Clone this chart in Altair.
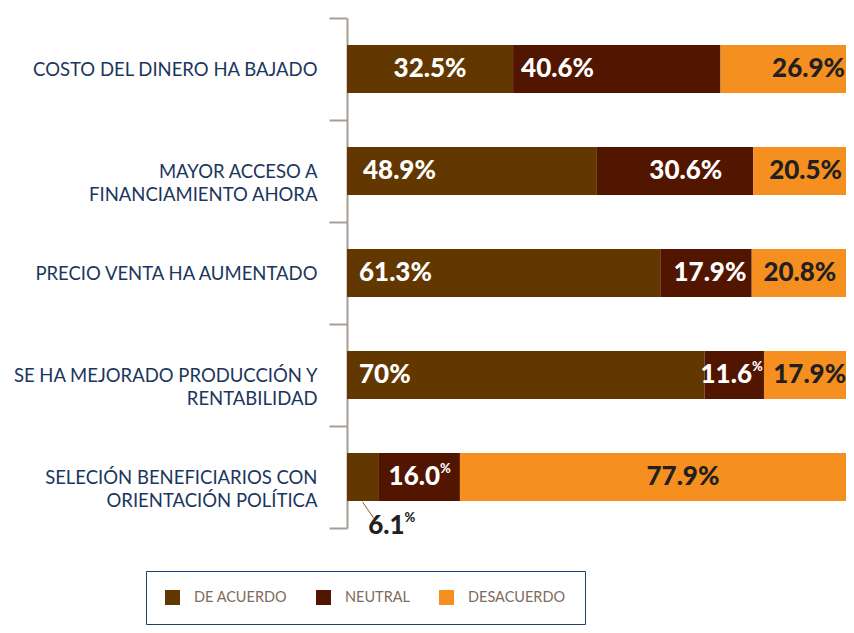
import altair as alt
import pandas as pd

# ---- data -------------------------------------------------------------
categories = [
    "COSTO DEL DINERO HA BAJADO",
    "MAYOR ACCESO A|FINANCIAMIENTO AHORA",
    "PRECIO VENTA HA AUMENTADO",
    "SE HA MEJORADO PRODUCCIÓN Y|RENTABILIDAD",
    "SELECIÓN BENEFICIARIOS CON|ORIENTACIÓN POLÍTICA",
]
series = ["DE ACUERDO", "NEUTRAL", "DESACUERDO"]
de_acuerdo = [32.5, 48.9, 61.3, 70.0, 6.1]
neutral = [40.6, 30.6, 17.9, 11.6, 16.0]
desacuerdo = [26.9, 20.5, 20.8, 17.9, 77.9]
label_de = ["32.5", "48.9", "61.3", "70", "6.1"]
label_ne = ["40.6", "30.6", "17.9", "11.6", "16.0"]
label_ds = ["26.9", "20.5", "20.8", "17.9", "77.9"]

colors = ["#623700", "#521500", "#f58f1f"]
text_colors = ["#ffffff", "#ffffff", "#231f20"]

# ---- label layout (style only): (anchor, pixel dx, kind) ----------------
# kind: "plain" -> number + "%", "sup" -> superscript %, "below" -> under bar
layout = {
    (0, 0): ("center", 0, "plain"), (0, 1): ("left", 8, "plain"), (0, 2): ("right", -13, "plain"),
    (1, 0): ("left", 16, "plain"), (1, 1): ("right", -31, "plain"), (1, 2): ("center", 0, "plain"),
    (2, 0): ("left", 12, "plain"), (2, 1): ("center", 4, "plain"), (2, 2): ("center", -5, "plain"),
    (3, 0): ("left", 12, "plain"), (3, 1): ("end", -12, "sup"), (3, 2): ("center", 0, "plain"),
    (4, 0): ("mid", 42, "below"), (4, 1): ("mid", 21, "sup"), (4, 2): ("center", 24, "plain"),
}

W, H = 499, 510          # plot area (svg must stay within the page body)
RANGE = 511              # 100 % lies past the visible edge, as in the reference
px_per_unit = RANGE / 100.0

rows = []
values = [de_acuerdo, neutral, desacuerdo]
labels = [label_de, label_ne, label_ds]
for i, cat in enumerate(categories):
    start = 0.0
    for j, s in enumerate(series):
        v = values[j][i]
        end = start + v
        anchor, dx, kind = layout[(i, j)]
        if anchor == "left":
            base = start
        elif anchor in ("right", "end"):
            base = end
        else:
            base = (start + end) / 2
        rows.append({
            "cat": cat, "series": s, "order": j, "value": v,
            "start": start, "end": end, "mid": (start + end) / 2,
            "lx": base + dx / px_per_unit,
            "align": anchor if anchor in ("left", "right", "center") else "anchor",
            "kind": kind,
            "num": labels[j][i],
            "txt": labels[j][i] + "%",
            "tcolor": "#231f20" if kind == "below" else text_colors[j],
        })
        start = end
df = pd.DataFrame(rows)

font_num = "Lato"
font_lab = "Lato"

y_enc = alt.Y(
    "cat:N",
    sort=categories,
    scale=alt.Scale(domain=categories, paddingInner=0, paddingOuter=0),
    axis=alt.Axis(
        title=None,
        labelExpr="split(datum.label, '|')",
        labelFont=font_lab,
        labelFontSize=18.5,
        labelColor="#1b365d",
        labelLineHeight=23,
        labelPadding=12,
        labelLimit=0,
        tickBand="extent",
        tickSize=18,
        tickWidth=2,
        tickColor="#a89e95",
        domainColor="#a89e95",
        domainWidth=2,
        grid=False,
    ),
)
x_scale = alt.Scale(domain=[0, 100], range=[0, RANGE], nice=False, zero=True)

base = alt.Chart(df)

bars = base.mark_bar(height=48).encode(
    x=alt.X("start:Q", scale=x_scale, axis=None),
    x2="end:Q",
    y=y_enc,
    color=alt.Color(
        "series:N",
        scale=alt.Scale(domain=series, range=colors),
        legend=alt.Legend(
            title=None,
            orient="none",
            legendX=-201,
            legendY=553,
            direction="horizontal",
            symbolType="square",
            symbolSize=225,
            symbolStrokeWidth=0,
            symbolOpacity=1,
            labelFont=font_lab,
            labelFontSize=14.5,
            labelColor="#7d6b5b",
            labelOffset=14,
            columnPadding=28,
            padding=19,
            strokeColor="#1f3f6e",
            fillColor="#ffffff",
        ),
    ),
    order="order:Q",
)

def txt_layer(data_filter, align, text_field, size=26, dy=0):
    return base.transform_filter(data_filter).mark_text(
        align=align, baseline="middle", font=font_num, fontWeight=900,
        fontSize=size, dy=dy,
    ).encode(
        x=alt.X("lx:Q", scale=x_scale, axis=None),
        y=alt.Y("cat:N", sort=categories),
        text=text_field,
        color=alt.Color("tcolor:N", scale=None),
    )

plain_l = txt_layer("datum.kind == 'plain' && datum.align == 'left'", "left", "txt:N")
plain_c = txt_layer("datum.kind == 'plain' && datum.align == 'center'", "center", "txt:N")
plain_r = txt_layer("datum.kind == 'plain' && datum.align == 'right'", "right", "txt:N")
sup_num = txt_layer("datum.kind == 'sup'", "right", "num:N")
sup_pct = txt_layer("datum.kind == 'sup'", "left", alt.value("%"), size=13, dy=-8)
below_num = txt_layer("datum.kind == 'below'", "right", "num:N", dy=49)
below_pct = txt_layer("datum.kind == 'below'", "left", alt.value("%"), size=13, dy=41)

leader = base.transform_filter("datum.kind == 'below'").mark_rule(
    color="#8a5a2a", strokeWidth=1, yOffset=25, y2Offset=41, x2Offset=11,
).encode(
    x=alt.X("mid:Q", scale=x_scale, axis=None),
    x2="mid:Q",
    y=alt.Y("cat:N", sort=categories),
    y2="cat:N",
)

chart = alt.layer(
    bars, plain_l, plain_c, plain_r, sup_num, sup_pct, below_num, below_pct, leader
).properties(
    width=W,
    height=H,
    background="#ffffff",
    autosize=alt.AutoSizeParams(type="none"),
    padding={"left": 339, "top": 10, "right": 0, "bottom": 97},
).configure_view(stroke=None).configure_axis(grid=False)

chart.save("out.html", embed_options={"renderer": "svg", "actions": False})
